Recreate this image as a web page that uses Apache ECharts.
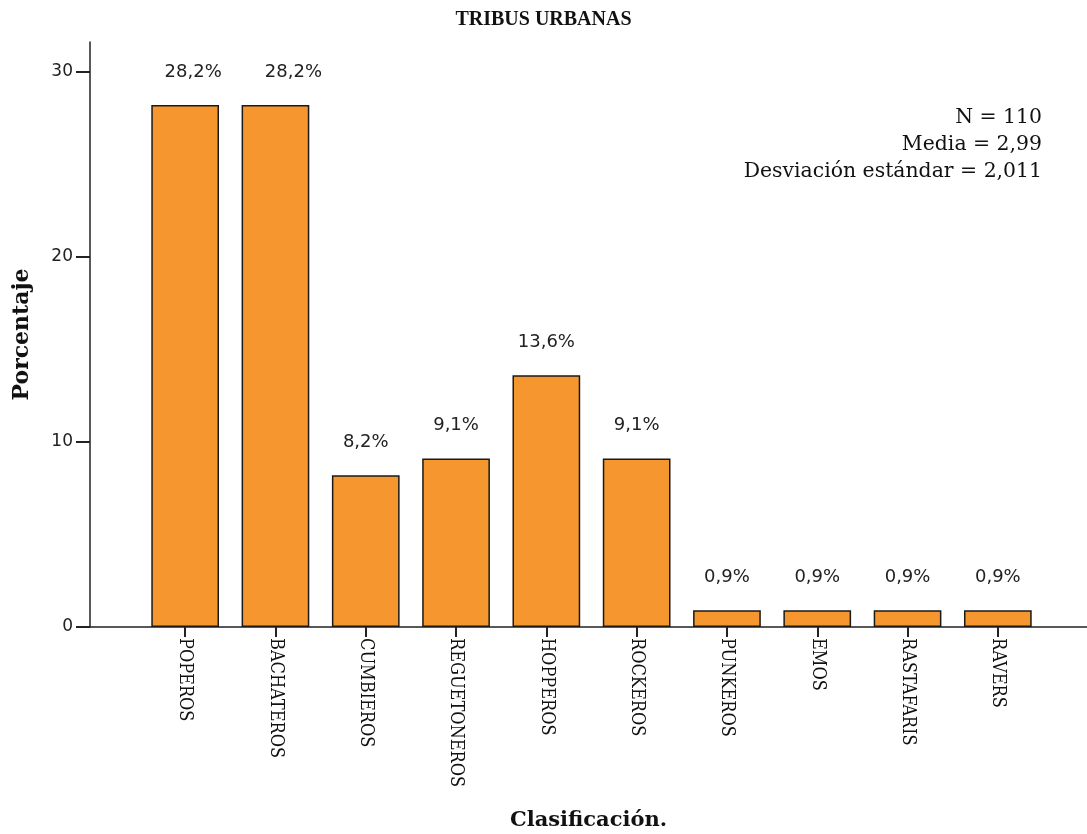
<!DOCTYPE html>
<html>
<head>
<meta charset="utf-8">
<script src="https://cdn.jsdelivr.net/npm/echarts@6/dist/echarts.min.js"></script>
<style>
  html, body { margin: 0; padding: 0; background: #fff; }
  #chart { width: 1087px; height: 834px; }
</style>
</head>
<body>
<div id="chart"></div>
<script>
// data
const categories = ['POPEROS', 'BACHATEROS', 'CUMBIEROS', 'REGUETONEROS', 'HOPPEROS',
  'ROCKEROS', 'PUNKEROS', 'EMOS', 'RASTAFARIS', 'RAVERS'];
const percentages = [28.2, 28.2, 8.2, 9.1, 13.6, 9.1, 0.9, 0.9, 0.9, 0.9];
const yTicks = [0, 10, 20, 30];
const statsLines = ['N = 110', 'Media = 2,99', 'Desviación estándar = 2,011'];

const serif = '"DejaVu Serif", "Liberation Serif", serif';
const serifCond = '"DejaVu Serif Condensed", "DejaVu Serif", serif';
const times = '"Liberation Serif", serif';
const sans = '"DejaVu Sans", Verdana, sans-serif';
const yMax = 31.6;

// SPSS nudged the two tallest labels a bit to the right
const labelShift = { 0: 8, 1: 18 };

const chart = echarts.init(document.getElementById('chart'), null, { renderer: 'canvas' });

const fmtPct = (v) => v.toFixed(1).replace('.', ',') + '%';

chart.setOption({
  backgroundColor: '#fff',
  animation: false,
  title: {
    text: 'TRIBUS URBANAS',
    left: 'center',
    top: 5,
    textStyle: { fontFamily: times, fontWeight: 'bold', fontSize: 20, color: '#111' }
  },
  graphic: [{
    type: 'text',
    right: 45,
    top: 104,
    style: {
      text: statsLines.join('\n'),
      font: '20.4px ' + serif,
      fill: '#111',
      textAlign: 'right',
      lineHeight: 27
    }
  }],
  grid: [
    { left: 90, right: 0, top: 42, bottom: 207, outerBoundsMode: 'none' },
    { left: 140, right: 44, top: 42, bottom: 207, outerBoundsMode: 'none' }
  ],
  xAxis: [
    {
      gridIndex: 0,
      type: 'value',
      min: 0,
      max: 1,
      axisLine: { show: true, lineStyle: { color: '#222', width: 1.5 } },
      axisTick: { show: false },
      axisLabel: { show: false },
      splitLine: { show: false },
      name: 'Clasificación.',
      nameLocation: 'middle',
      nameGap: 183,
      nameTextStyle: { fontFamily: serif, fontWeight: 'bold', fontSize: 21, color: '#111' }
    },
    {
      gridIndex: 1,
      type: 'category',
      data: categories,
      axisLine: { show: false },
      axisTick: { show: true, alignWithLabel: true, length: 10, lineStyle: { color: '#222', width: 2 } },
      axisLabel: {
        rotate: -90,
        margin: 11,
        interval: 0,
        fontFamily: serifCond,
        fontSize: 18,
        color: '#111'
      }
    }
  ],
  yAxis: [
    {
      gridIndex: 0,
      type: 'value',
      min: 0,
      max: yMax,
      axisLine: { show: true, lineStyle: { color: '#222', width: 1.5 } },
      axisTick: { show: true, length: 14, customValues: yTicks, lineStyle: { color: '#222', width: 2 } },
      axisLabel: {
        customValues: yTicks,
        margin: 17,
        fontFamily: sans,
        fontSize: 17,
        color: '#222'
      },
      splitLine: { show: false },
      name: 'Porcentaje',
      nameLocation: 'middle',
      nameGap: 57,
      nameTextStyle: { fontFamily: serif, fontWeight: 'bold', fontSize: 22, color: '#111' }
    },
    {
      gridIndex: 1,
      type: 'value',
      min: 0,
      max: yMax,
      show: false
    }
  ],
  series: [{
    type: 'bar',
    xAxisIndex: 1,
    yAxisIndex: 1,
    data: percentages.map((v, i) => labelShift[i]
      ? { value: v, label: { offset: [labelShift[i], 0] } }
      : v),
    barWidth: '75%',
    itemStyle: { color: '#F6962F', borderColor: '#1a1a1a', borderWidth: 1.5 },
    label: {
      show: true,
      position: 'top',
      distance: 24,
      fontFamily: sans,
      fontSize: 18,
      color: '#222',
      formatter: (p) => fmtPct(p.value)
    }
  }]
});
</script>
</body>
</html>
